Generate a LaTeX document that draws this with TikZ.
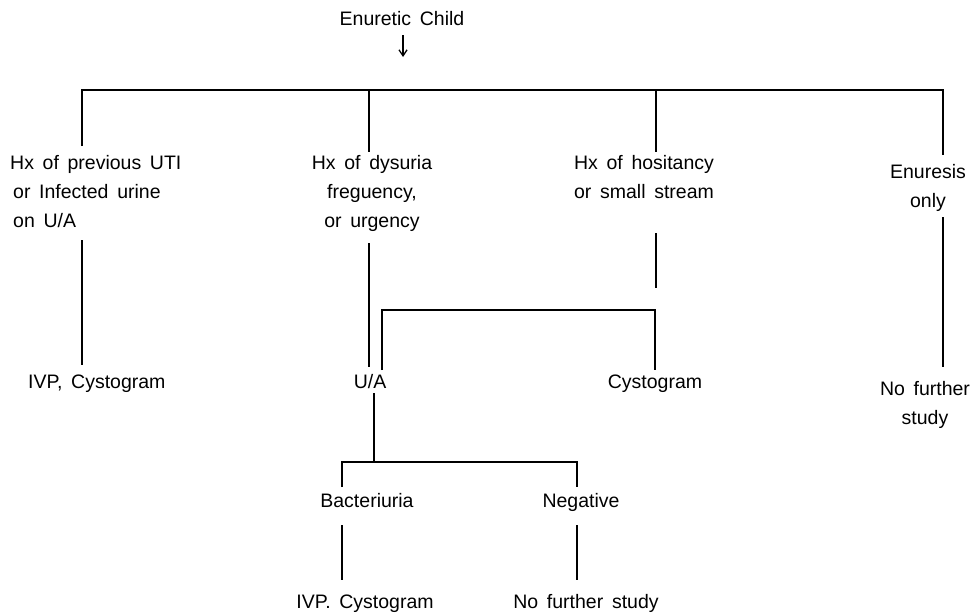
\documentclass[tikz,border=0pt]{standalone}
\usepackage{fontspec}
\setmainfont{Liberation Sans}[WordSpace=1.6]
\usetikzlibrary{arrows.meta}
\newcommand\mystackc[1]{\vtop{\baselineskip=29pt\halign{\hfil##\hfil\cr#1\crcr}}}
\newcommand\mystackl[1]{\vtop{\baselineskip=29pt\halign{##\hfil\cr#1\crcr}}}
\tikzset{
  txt/.style={inner sep=0pt, anchor=base, font=\fontsize{19.5}{29}\selectfont},
  wire/.style={line width=1.3pt, line cap=butt},
  arr/.style={line width=1.3pt, -{Straight Barb[length=6pt,width=8pt,line width=1.3pt]}}
}
\begin{document}
\begin{tikzpicture}[x=1pt,y=-1pt]
\useasboundingbox (0,0) rectangle (980,613);
% text nodes
\node[txt] (title) at (402,25) {Enuretic Child};
\node[txt, anchor=base west] (uti) at (10,169) {\mystackl{Hx of previous UTI\cr\hspace{3pt}or Infected urine\cr\hspace{3pt}on U/A}};
\node[txt] (dys) at (372,169) {\mystackc{Hx of dysuria\cr freguency,\cr or urgency}};
\node[txt] (hes) at (644,169) {\mystackc{Hx of hositancy\cr or small stream}};
\node[txt] (enu) at (928,178) {\mystackc{Enuresis\cr only}};
\node[txt, anchor=base west] (ivpa) at (28,388) {IVP, Cystogram};
\node[txt] (ua) at (370,388) {U/A};
\node[txt] (cys) at (655,388) {Cystogram};
\node[txt] (nfa) at (925,395) {\mystackc{No further\cr study}};
\node[txt] (bac) at (367,507) {Bacteriuria};
\node[txt] (neg) at (581,507) {Negative};
\node[txt] (ivpb) at (365,608) {IVP. Cystogram};
\node[txt] (nfb) at (586,608) {No further study};
% coordinates
\coordinate (a1) at (403,35); \coordinate (a2) at (403,57);
\coordinate (bL) at (82,90);  \coordinate (bR) at (943,90);
\coordinate (b2) at (369,90); \coordinate (b3) at (656,90);
\coordinate (d1) at (82,146); \coordinate (d2) at (369,152);
\coordinate (d3) at (656,152); \coordinate (d4) at (943,155);
\coordinate (u1) at (82,240); \coordinate (l1) at (82,365);
\coordinate (u2) at (369,243); \coordinate (l2) at (369,367);
\coordinate (u3) at (656,233); \coordinate (l3) at (656,288);
\coordinate (u4) at (943,217); \coordinate (l4) at (943,367);
\coordinate (kL) at (382,310); \coordinate (kR) at (655,310);
\coordinate (kLb) at (382,370); \coordinate (kRb) at (655,370);
\coordinate (ua1) at (374,393); \coordinate (ua2) at (374,462);
\coordinate (cL) at (342,462); \coordinate (cR) at (577,462);
\coordinate (cLb) at (342,487); \coordinate (cRb) at (577,487);
\coordinate (e1) at (342,525); \coordinate (e2) at (342,580);
\coordinate (f1) at (577,525); \coordinate (f2) at (577,580);
% connectors
\draw[arr] (a1) -- (a2);
\draw[wire] (d1) -- (bL) -- (bR) -- (d4);
\draw[wire] (b2) -- (d2);
\draw[wire] (b3) -- (d3);
\draw[wire] (u1) -- (l1);
\draw[wire] (u2) -- (l2);
\draw[wire] (u3) -- (l3);
\draw[wire] (u4) -- (l4);
\draw[wire] (kLb) -- (kL) -- (kR) -- (kRb);
\draw[wire] (ua1) -- (ua2);
\draw[wire] (cLb) -- (cL) -- (cR) -- (cRb);
\draw[wire] (e1) -- (e2);
\draw[wire] (f1) -- (f2);
\end{tikzpicture}
\end{document}
